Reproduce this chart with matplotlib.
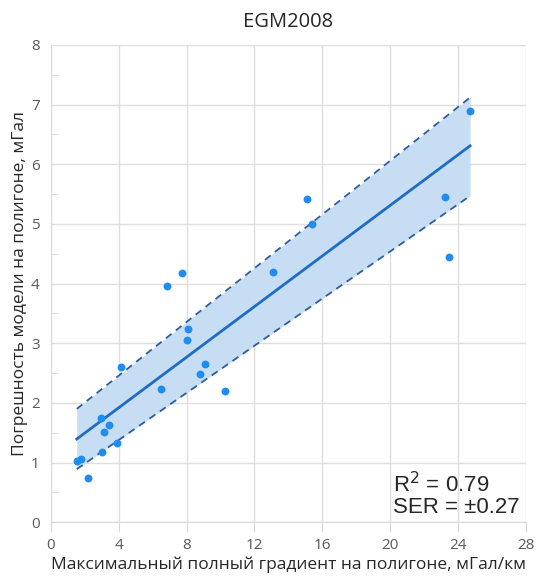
import numpy as np
import matplotlib
matplotlib.use("Agg")
import matplotlib.pyplot as plt
from matplotlib.ticker import MultipleLocator

# data
grad = [1.52, 1.79, 2.16, 2.93, 3.13, 3.44, 3.01, 3.87, 4.15, 6.47, 8.10, 8.00,
        9.07, 8.77, 10.27, 6.86, 7.75, 13.10, 15.10, 15.42, 23.24, 23.50, 24.70]
err = [1.03, 1.06, 0.75, 1.74, 1.52, 1.63, 1.17, 1.33, 2.60, 2.24, 3.24, 3.06,
       2.66, 2.48, 2.20, 3.96, 4.17, 4.19, 5.42, 5.00, 5.45, 4.45, 6.89]

fit_x = [1.52, 24.72]
fit_y = [1.395, 6.31]
band_hi = [1.90, 7.12]
band_lo = [0.89, 5.47]

PT_C, LINE_C, BAND_C, DASH_C = "#1E8CF0", "#1F6CC4", "#C6DDF4", "#2E5E9E"

plt.rcParams["font.family"] = ["Open Sans", "DejaVu Sans"]

fig = plt.figure(figsize=(5.36, 5.84), dpi=100)
ax = fig.add_axes([0.0951, 0.1057, 0.8857, 0.8173])

ax.fill_between(fit_x, band_lo, band_hi, color=BAND_C, lw=0, zorder=1)
ax.plot(fit_x, band_hi, color=DASH_C, ls=(0, (4, 3)), lw=1.3, zorder=2)
ax.plot(fit_x, band_lo, color=DASH_C, ls=(0, (4, 3)), lw=1.3, zorder=2)
ax.plot(fit_x, fit_y, color=LINE_C, lw=2, zorder=3)
ax.scatter(grad, err, s=32, color=PT_C, lw=0, zorder=4)

ax.set_xlim(0, 28); ax.set_ylim(0, 8)
ax.xaxis.set_major_locator(MultipleLocator(4))
ax.yaxis.set_major_locator(MultipleLocator(1))
ax.yaxis.set_minor_locator(MultipleLocator(0.5))
ax.grid(True, which="major", color="#DEDEDE", lw=1)
ax.set_axisbelow(True)
for s in ax.spines.values():
    s.set_visible(False)
ax.spines["left"].set_visible(True); ax.spines["left"].set_color("#D9D9D9")
ax.spines["bottom"].set_visible(True); ax.spines["bottom"].set_color("#D9D9D9")
ax.tick_params(axis="x", which="major", length=7, color="#D9D9D9", labelsize=11,
               labelcolor="#595959", pad=4)
ax.tick_params(axis="y", which="major", length=0, labelsize=11, labelcolor="#595959", pad=8)
ax.tick_params(axis="y", which="minor", direction="in", length=5, color="#D9D9D9")

ax.set_title("EGM2008", fontsize=14.5, color="#262626", pad=13)
ax.set_xlabel("Максимальный полный градиент на полигоне, мГал/км", fontsize=12.5,
              color="#262626", labelpad=3)
ax.set_ylabel("Погрешность модели на полигоне, мГал", fontsize=12.5, color="#262626",
              labelpad=2)

ax.text(20.2, 0.16, "R$^2$ = 0.79\nSER = ±0.27", fontsize=16, family="Liberation Sans",
        color="#262626", linespacing=1.0)

fig.savefig("out.png", dpi=100)
